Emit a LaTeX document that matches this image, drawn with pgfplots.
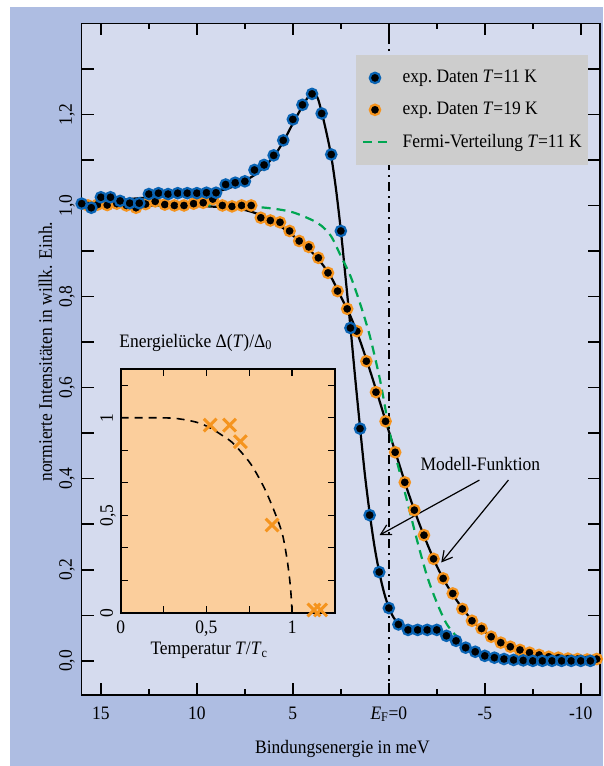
\documentclass[border=0pt]{standalone}
\usepackage{fontspec}
\setmainfont{Liberation Serif}[FakeStretch=0.92]
\usepackage{pgfplots}
\pgfplotsset{compat=1.18}
\usetikzlibrary{arrows.meta}
\definecolor{outerblue}{RGB}{174,189,226}
\definecolor{innerblue}{RGB}{213,219,238}
\definecolor{insetorange}{RGB}{251,206,156}
\definecolor{legendgray}{RGB}{205,205,205}
\definecolor{ringblue}{RGB}{10,100,180}
\definecolor{ringorange}{RGB}{245,148,30}
\definecolor{fermigreen}{RGB}{0,166,81}
\pgfplotsset{
  bluemk/.style={only marks, mark=*, mark size=5.2pt, mark options={draw=ringblue, fill=black, line width=2.2pt}},
  orangemk/.style={only marks, mark=*, mark size=5.2pt, mark options={draw=ringorange, fill=black, line width=2.2pt}},
  fermiline/.style={fermigreen, line width=2.2pt, dash pattern=on 9pt off 6pt},
  bluelegend/.style={legend image code/.code={\path[draw=none,fill=none] (0pt,0pt) -- (24pt,0pt); \filldraw[fill=black, draw=ringblue, line width=2.2pt, solid] (12pt,0pt) circle[radius=5.2pt];}},
  orangelegend/.style={legend image code/.code={\path[draw=none,fill=none] (0pt,0pt) -- (24pt,0pt); \filldraw[fill=black, draw=ringorange, line width=2.2pt, solid] (12pt,0pt) circle[radius=5.2pt];}},
  linelegend/.style={legend image code/.code={\draw[fermigreen, line width=2.2pt, dash pattern=on 9pt off 6pt] (0pt,0pt) -- (24pt,0pt);}},
}
\begin{document}
\fontsize{19pt}{23pt}\selectfont
\begin{tikzpicture}[x=1pt,y=1pt]
\useasboundingbox (0,0) rectangle (603,-766);
\fill[white] (0,0) rectangle (603,-766);
\fill[outerblue] (10,-7) rectangle (603,-766);
\begin{axis}[
  at={(81.7pt,-695pt)}, anchor=south west,
  width=518.3pt, height=671.7pt, scale only axis,
  x dir=reverse, xmin=-11, xmax=16, ymin=-0.075, ymax=1.4,
  axis background/.style={fill=innerblue},
  clip=false,
  axis line style={line width=1.6pt},
  tick style={line width=1.6pt, black},
  tick align=inside,
  major tick length=12pt, minor tick length=6pt,
  xtick={-10,-5,0,5,10,15},
  xticklabels={-10,-5,{\textit{E}\textsubscript{F}=0},5,10,15},
  minor xtick={-7.5,-2.5,2.5,7.5,12.5},
  ytick={0,0.1,0.2,0.3,0.4,0.5,0.6,0.7,0.8,0.9,1.0,1.1,1.2,1.3},
  yticklabels={{0,0},,{0,2},,{0,4},,{0,6},,{0,8},,{1,0},,{1,2},},
  xticklabel style={anchor=base, yshift=-24pt},
  yticklabel style={xshift=-9.7pt, rotate=90, anchor=base},
  xlabel={Bindungsenergie in meV},
  ylabel={normierte Intensitäten in willk. Einh.},
  every axis x label/.style={at={(axis description cs:0.503,-0.0878)}, anchor=base},
  every axis y label/.style={at={(axis description cs:-0.0573,0.511)}, rotate=90, anchor=base},
  legend style={at={(axis description cs:0.9768,0.9528)}, anchor=north east, fill=legendgray, draw=none,
    inner xsep=6pt, inner ysep=15pt, row sep=16.5pt, column sep=14.5pt, nodes={inner sep=0pt}},
  legend cell align=left,
]
% model fit T=11 K
\addplot[black, line width=2.2pt, smooth, forget plot] coordinates {
(16,1.003) (15,1.008) (14,1.012) (13,1.016) (12,1.019) (11,1.022) (10,1.025) (9,1.030)
(8,1.043) (7.5,1.054) (7,1.067) (6.5,1.085) (6,1.107) (5.5,1.140) (5,1.180) (4.5,1.218)
(4.2,1.238) (3.9,1.246) (3.7,1.235) (3.5,1.205) (3.25,1.160) (3,1.108) (2.75,1.035)
(2.5,0.945) (2.25,0.840) (2,0.733) (1.75,0.620) (1.5,0.513) (1.25,0.410) (1,0.325)
(0.75,0.252) (0.5,0.195) (0.25,0.150) (0,0.117) (-0.25,0.095) (-0.5,0.082) (-0.75,0.074)
(-1,0.070) (-1.5,0.068) (-2,0.067) (-2.5,0.063) (-3,0.055) (-3.5,0.044) (-4,0.031)
(-4.5,0.020) (-5,0.012) (-5.5,0.007) (-6,0.004) (-7,0.001) (-8,0.0) (-11,0.0)};
% model fit T=19 K
\addplot[black, line width=2.2pt, smooth, forget plot] coordinates {
(16,1.000) (12,1.000) (10,0.999) (9,0.997) (8,0.994) (7.5,0.990) (7,0.984) (6.5,0.975)
(6,0.963) (5.5,0.950) (5,0.934) (4.5,0.917) (4,0.897) (3.5,0.873) (3,0.842) (2.5,0.800)
(2,0.757) (1.5,0.703) (1,0.640) (0.5,0.573) (0,0.504) (-0.5,0.437) (-1,0.371) (-1.5,0.311)
(-2,0.257) (-2.5,0.208) (-3,0.168) (-3.5,0.135) (-4,0.106) (-4.5,0.082) (-5,0.064)
(-5.5,0.049) (-6,0.037) (-6.5,0.028) (-7,0.022) (-7.5,0.016) (-8,0.012) (-8.5,0.008)
(-9,0.006) (-10,0.004) (-11,0.003)};
% data T=19 K
\addplot[orangemk, forget plot] coordinates {
(15.67,1.000) (15.17,1.002) (14.67,1.001) (14.17,1.004) (13.67,1.000) (13.17,0.995)
(12.67,1.003) (12.17,1.009) (11.67,1.002) (11.17,1.000) (10.67,1.000) (10.17,1.004)
(9.67,1.006) (9.17,1.014) (8.67,1.000) (8.17,0.998) (7.67,1.000) (7.17,1.000)
(6.67,0.973) (6.17,0.967) (5.67,0.963) (5.17,0.944) (4.67,0.922) (4.17,0.909)
(3.67,0.885) (3.17,0.852) (2.67,0.812) (2.17,0.773) (1.67,0.724) (1.17,0.658)
(0.67,0.590) (0.17,0.526) (-0.33,0.458) (-0.83,0.392) (-1.33,0.331) (-1.83,0.276)
(-2.33,0.224) (-2.83,0.181) (-3.33,0.148) (-3.83,0.114) (-4.33,0.088) (-4.83,0.071)
(-5.33,0.053) (-5.83,0.040) (-6.33,0.031) (-6.83,0.024) (-7.33,0.018) (-7.83,0.013)
(-8.33,0.009) (-8.83,0.007) (-9.33,0.005) (-9.83,0.004) (-10.33,0.003) (-10.83,0.004)};
% data T=11 K
\addplot[bluemk, forget plot] coordinates {
(16,1.004) (15.5,0.995) (15,1.018) (14.5,1.018) (14,1.010) (13.5,1.005) (13,1.005)
(12.5,1.025) (12,1.027) (11.5,1.025) (11,1.027) (10.5,1.027) (10,1.027) (9.5,1.028)
(9,1.028) (8.5,1.046) (8,1.050) (7.5,1.053) (7,1.078) (6.5,1.089) (6,1.110) (5.5,1.143)
(5,1.189) (4.5,1.221) (4,1.245) (3.5,1.202) (3,1.112) (2.5,0.944) (2,0.731) (1.5,0.510)
(1,0.320) (0.5,0.195) (0,0.116) (-0.5,0.080) (-1,0.068) (-1.5,0.068) (-2,0.068)
(-2.5,0.068) (-3,0.055) (-3.5,0.044) (-4,0.029) (-4.5,0.020) (-5,0.011) (-5.5,0.007)
(-6,0.004) (-6.5,0.002) (-7,0.001) (-7.5,0.0) (-8,0.0) (-8.5,0.0) (-9,0.0) (-9.5,0.0)
(-10,0.0) (-10.5,0.0)};
% Fermi distribution
\addplot[fermiline, smooth, forget plot] coordinates {
(16,1.000) (9,1.000) (8,0.999) (7,0.997) (6,0.993) (5,0.985) (4,0.968) (3.5,0.955)
(3,0.932) (2.5,0.889) (2,0.845) (1.5,0.785) (1,0.715) (0.5,0.625) (0.25,0.570)
(0,0.510) (-0.25,0.465) (-0.5,0.425) (-1,0.343) (-1.5,0.260) (-2,0.185) (-2.5,0.128)
(-3,0.082) (-3.5,0.055) (-4,0.035) (-4.5,0.023) (-5,0.015) (-6,0.008) (-7,0.004)
(-8,0.002) (-11,0.000)};
% Fermi level
\addplot[black, line width=1.6pt, dash pattern=on 9pt off 5pt on 2pt off 5pt, forget plot]
  coordinates {(0,-0.075) (0,1.4)};
% annotation
\node[anchor=base] at (axis cs:-4.77,0.419) {Modell-Funktion};
\draw[line width=1.2pt, -{Straight Barb[length=10pt,width=11pt,line width=1.2pt]}]
  (axis cs:-4.72,0.397) -- (axis cs:0.485,0.276);
\draw[line width=1.2pt, -{Straight Barb[length=10pt,width=11pt,line width=1.2pt]}]
  (axis cs:-6.23,0.397) -- (axis cs:-2.73,0.216);
% legend
\addlegendimage{bluelegend}
\addlegendentry{exp.\ Daten \textit{T}=11 K}
\addlegendimage{orangelegend}
\addlegendentry{exp.\ Daten \textit{T}=19 K}
\addlegendimage{linelegend}
\addlegendentry{Fermi-Verteilung \textit{T}=11 K}
\end{axis}
% inset
\begin{axis}[
  at={(120.7pt,-612.7pt)}, anchor=south west,
  width=214.3pt, height=243.7pt, scale only axis,
  xmin=0, xmax=1.25, ymin=0, ymax=1.25,
  axis background/.style={fill=insetorange},
  clip=false,
  axis line style={line width=1.6pt},
  tick style={line width=1.4pt, black},
  tick align=inside, major tick length=7pt,
  xtick={0,0.25,0.5,0.75,1},
  xticklabels={0,,{0,5},,1},
  ytick={0,0.16667,0.33333,0.5,0.66667,0.83333,1,1.16667},
  yticklabels={0,,,{0,5},,,1,},
  xticklabel style={anchor=base, yshift=-20.6pt},
  yticklabel style={xshift=-7.7pt, rotate=90, anchor=base},
  title={Energielücke Δ(\textit{T})/Δ\textsubscript{0}},
  every axis title/.style={at={(axis description cs:0,1)}, anchor=base west, inner sep=0pt, yshift=22pt, xshift=-1.5pt},
  xlabel={Temperatur \textit{T}/\textit{T}\textsubscript{c}},
  every axis x label/.style={at={(axis description cs:0.412,0)}, anchor=base, yshift=-42pt},
]
\addplot[black, line width=1.6pt, dash pattern=on 8pt off 6pt, smooth] coordinates {
(0,1.000) (0.2,1.000) (0.3,0.998) (0.366,0.991) (0.45,0.975) (0.522,0.948) (0.6,0.905)
(0.659,0.866) (0.756,0.766) (0.834,0.646) (0.893,0.527) (0.942,0.407) (0.971,0.270)
(0.990,0.133) (1.0,0.0)};
\addplot[only marks, mark=x, mark size=9pt, ringorange, mark options={line width=3pt}] coordinates {
(0.522,0.962) (0.635,0.962) (0.698,0.877) (0.883,0.450) (1.127,0.014) (1.166,0.014)};
\end{axis}
\end{tikzpicture}
\end{document}
